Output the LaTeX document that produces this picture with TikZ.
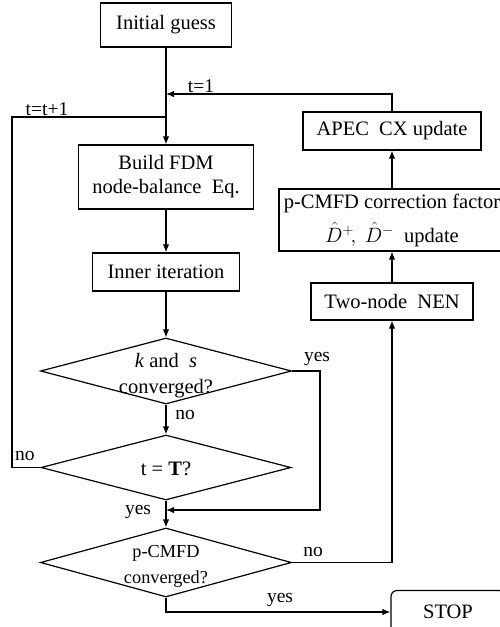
\documentclass[tikz,border=0pt]{standalone}
\usepackage{fontspec}
\setmainfont{Liberation Serif}
\usetikzlibrary{arrows.meta,shapes.geometric}
\begin{document}
\begin{tikzpicture}[x=1pt,y=-1pt, line width=1.2pt,
 box/.style={draw, rectangle, inner sep=0pt, font=\fontsize{20.5}{24}\selectfont, align=center},
 dia/.style={draw, diamond, inner sep=0pt, aspect=3.8},
 txt/.style={font=\fontsize{20.5}{26}\selectfont, inner sep=0pt, align=center},
 lbl/.style={font=\fontsize{19.5}{22}\selectfont, inner sep=0pt},
 arr/.style={-{Latex[length=8pt,width=6.5pt]}}]
\useasboundingbox (0,0) rectangle (500,627);
% boxes
\node[box, minimum width=131pt, minimum height=44pt] (init) at (166,25) {Initial guess};
\node[box, minimum width=175pt, minimum height=64pt] (fdm) at (166,177) {Build FDM\\node-balance\ \ Eq.};
\node[box, minimum width=147pt, minimum height=38pt] (inner) at (166,272) {Inner iteration};
\node[box, minimum width=178pt, minimum height=38pt] (apec) at (392,131) {APEC\ \ CX update};
\node[box, minimum width=226pt, minimum height=62pt] (pcm) at (392,220) {p-CMFD correction factor\\[9pt]$\hat{D}^{+}\!,\ \hat{D}^{-}$\ \ update};
\node[box, minimum width=162pt, minimum height=37pt] (nen) at (392,301.5) {Two-node\ \ NEN};
\node[box, rounded corners=6pt, minimum width=114pt, minimum height=43pt] (stop) at (448,612) {STOP};
% diamonds
\node[dia, minimum width=251pt, minimum height=66pt] (d1) at (166,371) {};
\node[txt] (d1t) at (166,376) {\textit{k} and\ \ \textit{s}\\converged?};
\node[dia, minimum width=250pt, minimum height=65pt] (d2) at (166,467.5) {};
\node[txt] (d2t) at (166,469) {t = \textbf{T}?};
\node[dia, minimum width=251pt, minimum height=69pt] (d3) at (166,562.5) {};
\node[txt, font=\fontsize{18.3}{26}\selectfont] (d3t) at (166,566) {p-CMFD\\converged?};
% junctions
\coordinate (j1) at (166,94);
\coordinate (j2) at (166,117);
\coordinate (j3) at (166,510);
\coordinate (cl) at (12,0);
\coordinate (cr) at (320,0);
% connectors
\draw[arr] (init.south) -- (fdm.north);
\draw[arr] (apec.north) |- (j1);
\draw (d2.west) -- (d2.west -| cl) |- (j2);
\draw[arr] (fdm.south) -- (inner.north);
\draw[arr] (inner.south) -- (d1.north);
\draw[arr] (d1.south) -- (d2.north);
\draw[arr] (d1.east) -- (d1.east -| cr) |- (j3);
\draw[arr] (d2.south) -- (d3.north);
\draw[arr] (d3.east) -| (nen.south);
\draw[arr] (nen.north) -- (pcm.south);
\draw[arr] (pcm.north) -- (apec.south);
\draw[arr] (d3.south) |- (stop.west);
% labels
\node[lbl] (l1) at (201,86) {t=1};
\node[lbl] (l2) at (47,109) {t=t+1};
\node[lbl] (l3) at (317,359) {yes};
\node[lbl] (l4) at (185,415) {no};
\node[lbl] (l5) at (25,456) {no};
\node[lbl] (l6) at (138,512) {yes};
\node[lbl] (l7) at (313,552) {no};
\node[lbl] (l8) at (280,600) {yes};
\end{tikzpicture}
\end{document}
